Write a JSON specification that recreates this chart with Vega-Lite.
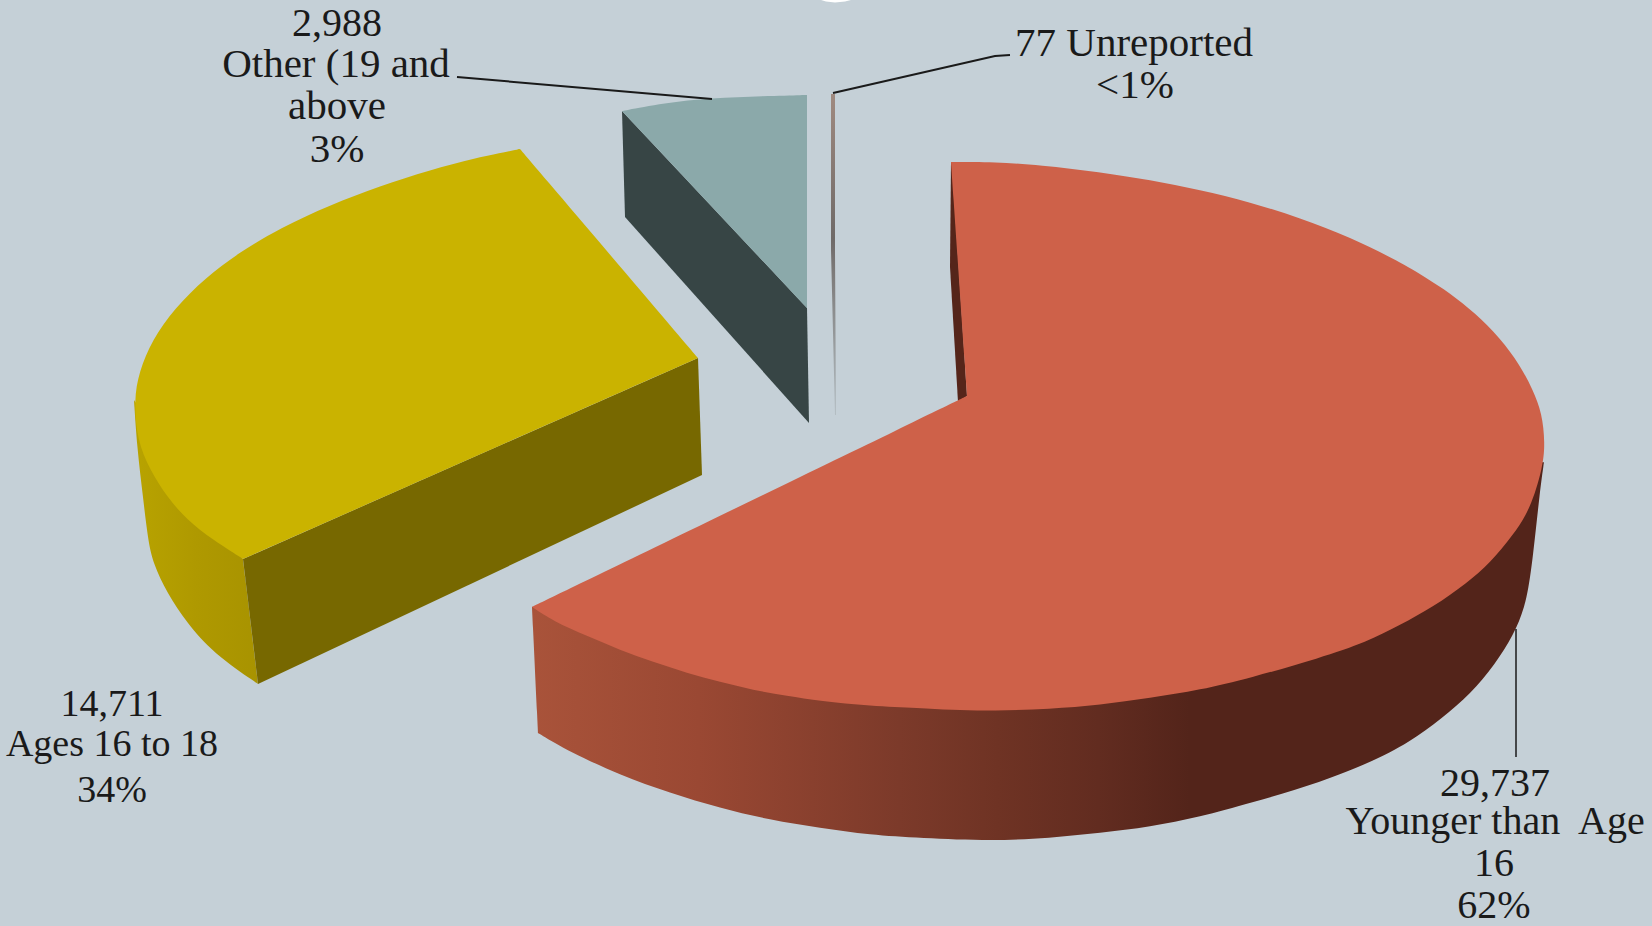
{"$schema":"https://vega.github.io/schema/vega-lite/v6.json","autosize":{"type":"fit","contains":"padding"},"width":1652,"height":926,"padding":0,"background":"#C5D0D7","config":{"view":{"stroke":null}},
"datasets":{
"redSide":[{"x":532,"y":607},{"x":532,"y":607},{"x":532,"y":607},{"x":538,"y":733},{"x":538,"y":733},{"x":538,"y":733},{"x":570,"y":752},{"x":620,"y":775},{"x":670,"y":793},{"x":720,"y":808},{"x":770,"y":820},{"x":820,"y":828},{"x":870,"y":835},{"x":920,"y":838},{"x":993,"y":841},{"x":1050,"y":838},{"x":1100,"y":833},{"x":1150,"y":827},{"x":1200,"y":817},{"x":1250,"y":803},{"x":1320,"y":783},{"x":1383,"y":757},{"x":1417,"y":737},{"x":1450,"y":712},{"x":1477,"y":687},{"x":1500,"y":657},{"x":1517,"y":628},{"x":1527,"y":600},{"x":1533,"y":557},{"x":1540,"y":490},{"x":1544,"y":462},{"x":1544,"y":462},{"x":1544,"y":462}],
"redInner":[{"x":951,"y":162},{"x":950,"y":267},{"x":958,"y":402},{"x":967,"y":396},{"x":952,"y":162}],
"redTop":[{"x":951,"y":162},{"x":951,"y":162},{"x":951,"y":162},{"x":995,"y":162},{"x":1040,"y":165},{"x":1100,"y":172},{"x":1150,"y":180},{"x":1200,"y":190},{"x":1250,"y":202},{"x":1300,"y":218},{"x":1350,"y":237},{"x":1400,"y":262},{"x":1425,"y":277},{"x":1450,"y":293},{"x":1475,"y":313},{"x":1500,"y":338},{"x":1520,"y":365},{"x":1533,"y":390},{"x":1542,"y":413},{"x":1545,"y":443},{"x":1543,"y":467},{"x":1530,"y":510},{"x":1513,"y":535},{"x":1490,"y":563},{"x":1467,"y":583},{"x":1433,"y":607},{"x":1400,"y":625},{"x":1367,"y":642},{"x":1320,"y":658},{"x":1250,"y":678},{"x":1200,"y":690},{"x":1150,"y":698},{"x":1100,"y":705},{"x":1050,"y":709},{"x":993,"y":711},{"x":950,"y":710},{"x":920,"y":708},{"x":870,"y":706},{"x":820,"y":701},{"x":787,"y":696},{"x":753,"y":690},{"x":720,"y":682},{"x":687,"y":673},{"x":653,"y":662},{"x":620,"y":650},{"x":587,"y":636},{"x":553,"y":621},{"x":532,"y":607},{"x":532,"y":607},{"x":532,"y":607},{"x":967,"y":396},{"x":967,"y":396},{"x":967,"y":396},{"x":951,"y":162},{"x":951,"y":162},{"x":951,"y":162}],
"yellowSide":[{"x":134,"y":400},{"x":134,"y":400},{"x":134,"y":400},{"x":243,"y":559},{"x":243,"y":559},{"x":243,"y":559},{"x":258,"y":684},{"x":258,"y":684},{"x":258,"y":684},{"x":213,"y":653},{"x":187,"y":623},{"x":167,"y":593},{"x":153,"y":563},{"x":148,"y":540},{"x":143,"y":497},{"x":137,"y":447},{"x":134,"y":400},{"x":134,"y":400},{"x":134,"y":400}],
"yellowFront":[{"x":243,"y":559},{"x":698,"y":358},{"x":702,"y":475},{"x":258,"y":684}],
"yellowTop":[{"x":520,"y":149},{"x":520,"y":149},{"x":520,"y":149},{"x":475,"y":158},{"x":430,"y":170},{"x":380,"y":186},{"x":330,"y":205},{"x":280,"y":228},{"x":240,"y":252},{"x":205,"y":278},{"x":175,"y":308},{"x":152,"y":340},{"x":139,"y":372},{"x":134,"y":400},{"x":137,"y":440},{"x":150,"y":470},{"x":167,"y":497},{"x":187,"y":520},{"x":213,"y":540},{"x":243,"y":559},{"x":243,"y":559},{"x":243,"y":559},{"x":698,"y":358},{"x":698,"y":358},{"x":698,"y":358},{"x":520,"y":149},{"x":520,"y":149},{"x":520,"y":149}],
"otherFront":[{"x":622,"y":111},{"x":807,"y":308},{"x":809,"y":423},{"x":625,"y":217}],
"otherTop":[{"x":622,"y":111},{"x":622,"y":111},{"x":622,"y":111},{"x":664,"y":103},{"x":711,"y":98},{"x":764,"y":96},{"x":807,"y":95},{"x":807,"y":95},{"x":807,"y":95},{"x":807,"y":308},{"x":807,"y":308},{"x":807,"y":308},{"x":622,"y":111},{"x":622,"y":111},{"x":622,"y":111}],
"unreported":[{"x":831,"y":94},{"x":835,"y":94},{"x":835,"y":250},{"x":836,"y":415},{"x":835,"y":415},{"x":831,"y":250}],
"blob":[{"x":821,"y":0},{"x":851,"y":0},{"x":845,"y":1.5},{"x":835,"y":2.5},{"x":826,"y":1.5}],
"leaderOther":[{"x":457,"y":77},{"x":712,"y":99}],
"leaderUnreported":[{"x":1010,"y":55},{"x":995,"y":56},{"x":833,"y":93}],
"leaderYounger":[{"x":1516,"y":629},{"x":1516,"y":757}],
"labelCount":[{"t":"2,988","x":337,"y":36}],
"labelsTop":[
{"t":"Other (19 and","x":336,"y":77},{"t":"above","x":337,"y":119},{"t":"3%","x":337,"y":162},
{"t":"77 Unreported","x":1134,"y":56},{"t":"<1%","x":1135,"y":98}],
"labelsLeft":[{"t":"14,711","x":112,"y":716},{"t":"Ages 16 to 18","x":112,"y":756},{"t":"34%","x":112,"y":802}],
"labelsRight":[{"t":"29,737","x":1495,"y":796},{"t":"Younger than\u00a0 Age","x":1495,"y":834},{"t":"16","x":1494,"y":876},{"t":"62%","x":1494,"y":918}]
},
"encoding":{"x":{"field":"x","type":"quantitative","scale":{"domain":[0,1652],"nice":false,"zero":false},"axis":null},"y":{"field":"y","type":"quantitative","scale":{"domain":[926,0],"nice":false,"zero":false},"axis":null},"order":{"value":null}},
"layer":[
{"data":{"name":"blob"},"mark":{"type":"line","fill":"#FFFFFF","stroke":null}},
{"data":{"name":"redInner"},"mark":{"type":"line","fill":"#55251A","stroke":null}},
{"data":{"name":"redSide"},"mark":{"type":"line","interpolate":"basis","stroke":null,"fill":{"gradient":"linear","x1":0,"y1":0,"x2":1,"y2":0,"stops":[{"offset":0,"color":"#A9533A"},{"offset":0.165,"color":"#9A4833"},{"offset":0.363,"color":"#7C3A2A"},{"offset":0.46,"color":"#6F3324"},{"offset":0.56,"color":"#622C20"},{"offset":0.65,"color":"#53241A"},{"offset":1,"color":"#53241A"}]}}},
{"data":{"name":"redTop"},"mark":{"type":"line","interpolate":"basis","fill":"#CE6149","stroke":null}},
{"data":{"name":"yellowSide"},"mark":{"type":"line","interpolate":"basis","stroke":null,"fill":{"gradient":"linear","x1":0,"y1":0,"x2":1,"y2":0,"stops":[{"offset":0,"color":"#B8A300"},{"offset":0.5,"color":"#AF9900"},{"offset":1,"color":"#A89300"}]}}},
{"data":{"name":"yellowFront"},"mark":{"type":"line","fill":"#776800","stroke":null}},
{"data":{"name":"yellowTop"},"mark":{"type":"line","interpolate":"basis","fill":"#CAB300","stroke":null}},
{"data":{"name":"otherFront"},"mark":{"type":"line","fill":"#374545","stroke":null}},
{"data":{"name":"otherTop"},"mark":{"type":"line","interpolate":"basis","fill":"#8BA9AA","stroke":null}},
{"data":{"name":"unreported"},"mark":{"type":"line","stroke":null,"fill":{"gradient":"linear","x1":0,"y1":0,"x2":0,"y2":1,"stops":[{"offset":0,"color":"#A08A80"},{"offset":0.45,"color":"#6F6A68"},{"offset":1,"color":"#B4BEC3"}]}}},
{"data":{"name":"leaderOther"},"mark":{"type":"line","stroke":"#1A1A1A","strokeWidth":2}},
{"data":{"name":"leaderUnreported"},"mark":{"type":"line","stroke":"#1A1A1A","strokeWidth":2}},
{"data":{"name":"leaderYounger"},"mark":{"type":"line","stroke":"#1A1A1A","strokeWidth":1.5}},
{"data":{"name":"labelCount"},"mark":{"type":"text","font":"Liberation Serif","fontSize":40,"align":"center","baseline":"alphabetic","color":"#1A1A1A"},"encoding":{"text":{"field":"t"}}},
{"data":{"name":"labelsTop"},"mark":{"type":"text","font":"Liberation Serif","fontSize":41,"align":"center","baseline":"alphabetic","color":"#1A1A1A"},"encoding":{"text":{"field":"t"}}},
{"data":{"name":"labelsLeft"},"mark":{"type":"text","font":"Liberation Serif","fontSize":38,"align":"center","baseline":"alphabetic","color":"#1A1A1A"},"encoding":{"text":{"field":"t"}}},
{"data":{"name":"labelsRight"},"mark":{"type":"text","font":"Liberation Serif","fontSize":40,"align":"center","baseline":"alphabetic","color":"#1A1A1A"},"encoding":{"text":{"field":"t"}}}
]}
